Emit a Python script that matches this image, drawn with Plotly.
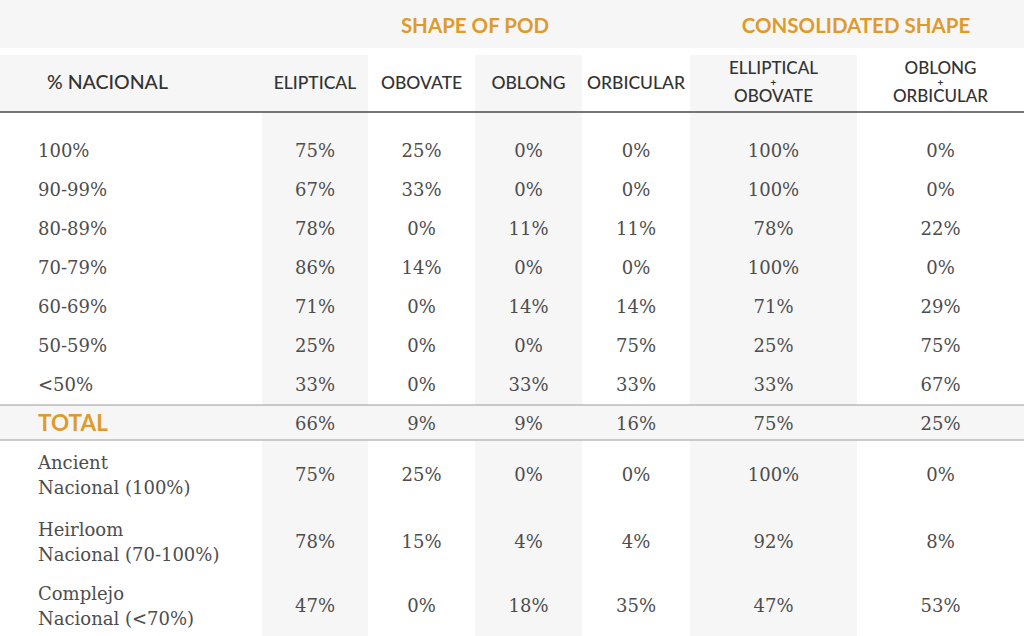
import plotly.graph_objects as go

# ---------------------- Data ----------------------
GROUP_HEADERS = ["SHAPE OF POD", "CONSOLIDATED SHAPE"]
COLUMNS = ["ELIPTICAL", "OBOVATE", "OBLONG", "ORBICULAR",
           ("ELLIPTICAL", "OBOVATE"), ("OBLONG", "ORBICULAR")]
ROW_LABELS = ["100%", "90-99%", "80-89%", "70-79%", "60-69%", "50-59%", "&lt;50%"]

eliptical = [75, 67, 78, 86, 71, 25, 33]
obovate = [25, 33, 0, 14, 0, 0, 0]
oblong = [0, 0, 11, 0, 14, 0, 33]
orbicular = [0, 0, 11, 0, 14, 75, 33]
elliptical_obovate = [100, 100, 78, 100, 71, 25, 33]
oblong_orbicular = [0, 0, 22, 0, 29, 75, 67]

TOTAL = [66, 9, 9, 16, 75, 25]

GROUP_LABELS = [("Ancient", "Nacional (100%)"),
                ("Heirloom", "Nacional (70-100%)"),
                ("Complejo", "Nacional (&lt;70%)")]
ancient = [75, 25, 0, 0, 100, 0]
heirloom = [78, 15, 4, 4, 92, 8]
complejo = [47, 0, 18, 35, 47, 53]

# ---------------------- Layout config ----------------------
W, H = 1024, 636
EDGES = [0, 262, 368, 475, 582, 690, 857, 1024]      # column boundaries
CENTERS = [(EDGES[i] + EDGES[i + 1]) / 2 for i in range(1, 7)]
SHADED = [1, 3, 5]                                    # columns with grey band
DY = 2.5                                              # text baseline nudge
ROW_Y = [150, 189, 228, 267, 306, 345, 384]
TOTAL_Y = 423
GROUP_Y = [474, 541, 605]
LINE_GAP = 12.5

GREY = "#f6f6f6"
GOLD = "#de9b2c"
INK = "#4d4d4d"
HEAD_INK = "#333333"
SERIF = "DejaVu Serif"
SANS = "Lato"

fig = go.Figure()


def pct(v):
    return [f"{x}%" for x in v]


def add_text(xs, ys, texts, size=18, color=INK, family=SERIF, pos="middle center", weight=None):
    font = dict(size=size, color=color, family=family)
    if weight:
        font["weight"] = weight
    fig.add_trace(go.Scatter(x=xs, y=[y + DY for y in ys], text=texts, mode="text",
                             textposition=pos, textfont=font,
                             hoverinfo="skip", showlegend=False))


# backgrounds
shapes = [dict(type="rect", x0=0, x1=W, y0=0, y1=48, fillcolor=GREY, line_width=0, layer="below")]
shapes.append(dict(type="rect", x0=0, x1=EDGES[1], y0=55, y1=112,
                   fillcolor=GREY, line_width=0, layer="below"))
for c in SHADED:
    shapes.append(dict(type="rect", x0=EDGES[c], x1=EDGES[c + 1],
                       y0=55, y1=H, fillcolor=GREY, line_width=0, layer="below"))
# total band
shapes.append(dict(type="rect", x0=0, x1=W, y0=405, y1=440, fillcolor=GREY,
                   line_width=0, layer="below"))
shapes.append(dict(type="line", x0=0, x1=W, y0=405, y1=405, line=dict(color="#9a9a9a", width=1.2)))
shapes.append(dict(type="line", x0=0, x1=W, y0=440, y1=440, line=dict(color="#9a9a9a", width=1.2)))
shapes.append(dict(type="line", x0=0, x1=W, y0=112, y1=112, line=dict(color="#4a4a4a", width=1.6)))

# group headers
add_text([475, 856], [25, 25], GROUP_HEADERS, size=20.5, color=GOLD, family=SANS, weight=700)

# column headers
add_text([47], [82], ["% NACIONAL"], size=19.5, color=HEAD_INK, family=SANS, pos="middle right", weight=500)
single = [(CENTERS[i], c) for i, c in enumerate(COLUMNS) if isinstance(c, str)]
add_text([s[0] for s in single], [82] * len(single), [s[1] for s in single],
         size=17.5, color=HEAD_INK, family=SANS, weight=500)
double = [(CENTERS[i], c) for i, c in enumerate(COLUMNS) if not isinstance(c, str)]
add_text([d[0] for d in double], [67.5] * len(double), [d[1][0] for d in double],
         size=17, color=HEAD_INK, family=SANS, weight=500)
add_text([d[0] for d in double], [81] * len(double), ["+"] * len(double),
         size=10, color=HEAD_INK, family=SANS, weight=700)
add_text([d[0] for d in double], [95.5] * len(double), [d[1][1] for d in double],
         size=17, color=HEAD_INK, family=SANS, weight=500)

# body
add_text([38] * len(ROW_LABELS), ROW_Y, ROW_LABELS, pos="middle right")
for cx, series in zip(CENTERS, [eliptical, obovate, oblong, orbicular,
                                elliptical_obovate, oblong_orbicular]):
    add_text([cx] * len(series), ROW_Y, pct(series))

# total
add_text([38], [TOTAL_Y], ["TOTAL"], size=22.5, color=GOLD, family=SANS, pos="middle right", weight=700)
add_text(CENTERS, [TOTAL_Y] * len(TOTAL), pct(TOTAL))

# groups
add_text([38] * 3, [y - LINE_GAP for y in GROUP_Y], [g[0] for g in GROUP_LABELS], pos="middle right")
add_text([38] * 3, [y + LINE_GAP for y in GROUP_Y], [g[1] for g in GROUP_LABELS], pos="middle right")
for gy, vals in zip(GROUP_Y, [ancient, heirloom, complejo]):
    add_text(CENTERS, [gy] * len(vals), pct(vals))

fig.update_layout(
    width=W, height=H,
    margin=dict(l=0, r=0, t=0, b=0),
    paper_bgcolor="white", plot_bgcolor="white",
    shapes=shapes,
    xaxis=dict(range=[0, W], visible=False, fixedrange=True),
    yaxis=dict(range=[H, 0], visible=False, fixedrange=True),
)

# drop the browser's default body margin so the table fills the window
fig.write_html("out.html", config={"displayModeBar": False},
               post_script="document.body.style.margin='0';")
